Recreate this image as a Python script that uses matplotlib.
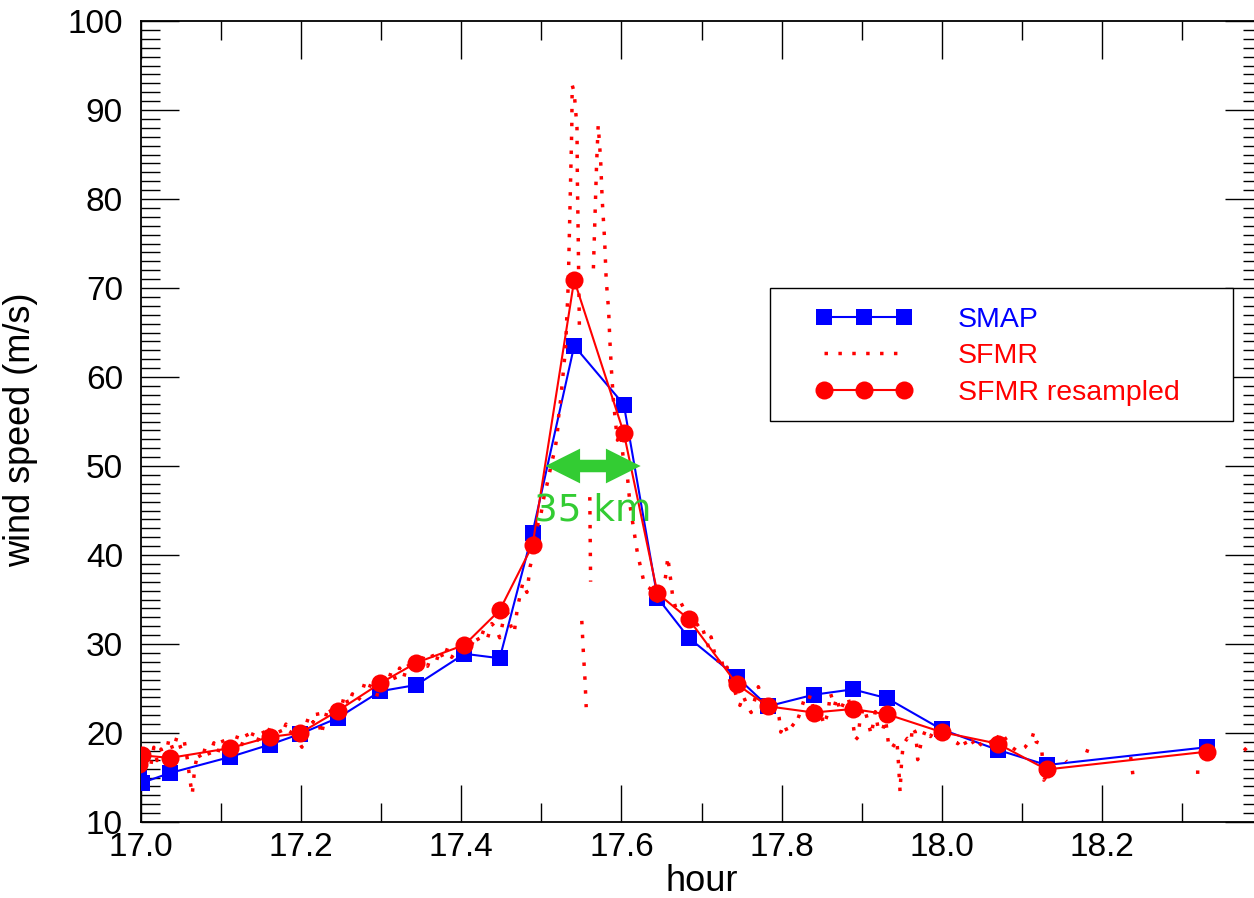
import numpy as np
import matplotlib
matplotlib.use("Agg")
import matplotlib.pyplot as plt
from matplotlib.patches import FancyArrowPatch, ArrowStyle, Rectangle
from matplotlib.ticker import MultipleLocator

nan = np.nan

# SMAP retrievals along the track
smap_hour = [16.998, 17.001, 17.036, 17.111, 17.161, 17.199, 17.246, 17.299, 17.344,
             17.404, 17.448, 17.489, 17.541, 17.603, 17.645, 17.684, 17.744, 17.783,
             17.840, 17.889, 17.932, 18.000, 18.070, 18.131, 18.331]
smap_speed = [15.2, 14.4, 15.5, 17.3, 18.7, 19.9, 21.7, 24.7, 25.4,
              28.9, 28.4, 42.5, 63.5, 56.9, 35.2, 30.7, 26.3, 23.0,
              24.3, 24.9, 23.9, 20.4, 18.1, 16.4, 18.4]

# SFMR averaged onto the SMAP footprints
res_hour = smap_hour
res_speed = [16.5, 17.5, 17.2, 18.3, 19.55, 20.0, 22.5, 25.6, 27.9,
             29.9, 33.8, 41.1, 70.9, 53.7, 35.7, 32.8, 25.5, 23.0,
             22.3, 22.7, 22.1, 20.1, 18.8, 15.9, 17.9]

# SFMR high-rate wind speeds (nan marks missing data)
sfmr_hour = [
    17.000, 17.004, 17.008, 17.012, 17.016, 17.020, 17.025, 17.030, 17.035, 17.040,
    17.045, 17.050, 17.054, 17.058, 17.061, 17.064, 17.067, 17.071, 17.076, 17.081,
    17.086, 17.091, 17.096, 17.101, 17.106, 17.111, 17.116, 17.121, 17.126, 17.131,
    17.136, 17.141, 17.146, 17.151, 17.156, 17.161, 17.166, 17.171, 17.176, 17.181,
    17.186, 17.191, 17.196, 17.201, 17.205, 17.210, 17.215, 17.220, 17.225, 17.229,
    17.234, 17.239, 17.244, 17.249, 17.254, 17.259, 17.264, 17.269, 17.274, 17.279,
    17.284, 17.289, 17.294, 17.298, 17.303, 17.308, 17.313, 17.318, 17.323, 17.328,
    17.333, 17.338, 17.343, 17.348, 17.353, 17.358, 17.363, 17.368, 17.373, 17.378,
    17.383, 17.388, 17.393, 17.398, 17.403, 17.408, 17.413, 17.418, 17.423, 17.428,
    17.433, 17.438, 17.443, 17.448, 17.453, 17.458, 17.462, 17.466, 17.470, 17.474,
    17.477, 17.482, 17.486, 17.489, 17.492, 17.499, 17.5025, 17.5075, 17.512, 17.5175,
    17.520, 17.5215, 17.524, 17.526, 17.528, 17.530, 17.531, 17.532, 17.533, 17.534,
    17.535, 17.536, 17.537, 17.538, 17.5385, 17.541, 17.5445, 17.545, 17.546, 17.5465,
    17.5475, nan,
    17.5505, 17.5525, 17.5545, 17.556, nan,
    17.5605, 17.5615, nan,
    17.565, 17.567, 17.569, 17.571, 17.574, 17.576, 17.579, 17.581, 17.584, 17.5855,
    17.5875, 17.590, 17.5925, 17.595, 17.599, 17.6025, 17.6075, 17.611, 17.615, 17.620,
    17.6275, 17.6325, 17.640, 17.645, 17.650, 17.655, 17.658, 17.660, 17.662, 17.664,
    17.668, 17.674, 17.680, 17.686, 17.692, 17.699, 17.704, 17.709, 17.712, 17.716,
    17.720, 17.724, 17.728, 17.732, 17.736, 17.740, 17.744, 17.748, 17.752, 17.757,
    17.762, 17.766, 17.771, 17.774, 17.777, 17.782, 17.787, 17.792, 17.797, 17.799,
    17.803, 17.807, 17.811, 17.817, 17.822, 17.828, 17.833, 17.836, 17.840, 17.844,
    17.848, 17.853, 17.858, 17.861, 17.866, 17.869, 17.873, 17.878, 17.883, 17.887,
    17.892, 17.896, 17.898, 17.903, 17.907, 17.912, 17.917, 17.921, 17.926, 17.930,
    17.934, 17.938, 17.944, 17.946, 17.947, 17.948, 17.950, 17.952, 17.957, 17.962,
    17.963, 17.967, 17.969, 17.970, 17.975, 17.980, 17.986, 17.992, 17.999, 18.003,
    18.008, 18.014, 18.020, 18.026, 18.032, 18.038, 18.044, 18.050, 18.057, 18.064,
    18.074, 18.078, 18.085, 18.095, 18.104, 18.109, 18.112, 18.115, 18.118, 18.121,
    18.125, 18.1275, 18.131, 18.134, nan,
    18.155, 18.156, nan,
    18.181, 18.185, nan,
    18.236, 18.240, nan,
    18.3175, 18.326, nan,
    18.3775, 18.3825,
]
sfmr_speed = [
    16.8, 15.7, 17.5, 16.2, 18.4, 16.9, 18.2, 17.0, 19.4, 18.1,
    19.6, 18.2, 19.1, 17.0, 14.8, 13.1, 16.0, 17.8, 17.0, 18.6,
    17.5, 18.9, 17.8, 19.3, 18.2, 19.5, 18.4, 19.8, 18.7, 20.0,
    19.1, 20.2, 19.2, 20.4, 19.5, 20.6, 19.7, 20.8, 19.8, 21.0,
    19.9, 20.7, 19.2, 18.4, 20.6, 22.0, 21.2, 22.4, 19.8, 21.3,
    23.0, 22.0, 23.5, 22.3, 24.3, 23.2, 24.4, 23.5, 24.0, 25.5,
    24.8, 26.0, 24.0, 25.2, 26.6, 25.5, 27.1, 26.0, 27.3, 26.2,
    27.8, 26.9, 28.3, 27.2, 28.6, 27.5, 28.9, 27.8, 29.3, 28.3,
    29.6, 28.5, 29.2, 30.2, 29.4, 30.4, 29.9, 31.0, 30.2, 31.6,
    30.7, 32.3, 31.8, 30.7, 32.9, 33.5, 32.0, 31.2, 34.0, 35.7,
    36.9, 35.8, 38.7, 39.8, 42.5, 44.3, 46.2, 48.1, 50.0, 52.1,
    53.7, 55.5, 57.4, 59.3, 61.1, 63.0, 64.9, 67.2, 69.0, 72.1,
    76.0, 80.0, 84.0, 88.0, 92.8, 92.0, 88.0, 82.0, 76.0, 72.1,
    65.6, nan,
    32.6, 29.0, 26.0, 22.9, nan,
    46.5, 37.0, nan,
    72.2, 78.0, 84.0, 88.3, 84.4, 79.9, 75.4, 70.9, 67.5, 64.2,
    60.8, 57.4, 55.0, 52.9, 53.7, 50.7, 48.8, 45.4, 43.1, 40.2,
    37.2, 36.4, 36.0, 34.8, 35.6, 37.5, 39.8, 38.2, 36.9, 35.3,
    34.0, 34.7, 33.6, 32.9, 32.0, 32.4, 31.0, 29.6, 30.8, 29.1,
    27.9, 28.7, 26.9, 27.4, 25.6, 25.2, 24.0, 23.1, 24.2, 23.1,
    22.3, 23.6, 25.2, 24.4, 23.7, 23.1, 22.2, 23.3, 21.7, 20.1,
    21.0, 20.2, 21.1, 20.7, 22.0, 23.7, 23.4, 24.3, 22.6, 21.8,
    22.5, 20.9, 22.3, 24.5, 23.0, 24.0, 22.4, 23.5, 24.0, 22.6,
    19.2, 19.6, 21.7, 22.9, 21.6, 19.8, 22.4, 20.3, 20.3, 21.5,
    18.4, 18.3, 19.2, 16.6, 15.1, 13.4, 17.0, 18.7, 19.4, 19.0,
    20.7, 20.1, 18.4, 17.0, 19.2, 20.4, 19.6, 20.6, 20.1, 19.6,
    20.0, 19.2, 18.8, 19.5, 18.4, 19.1, 18.2, 18.9, 19.4, 18.6,
    20.1, 19.6, 18.6, 17.9, 18.4, 19.0, 19.2, 20.1, 19.0, 18.9,
    18.1, 14.7, 15.2, 14.6, nan,
    16.9, 16.8, nan,
    17.8, 18.8, nan,
    17.3, 14.4, nan,
    15.6, 15.6, nan,
    18.3, 17.9,
]

x_ticks = [17.0, 17.2, 17.4, 17.6, 17.8, 18.0, 18.2]
y_ticks = [10, 20, 30, 40, 50, 60, 70, 80, 90, 100]

swath_label = "35 km"
swath_center = (17.5645, 50.0)
swath_left, swath_right = 17.505, 17.624

plt.rcParams["font.family"] = ["Liberation Sans", "DejaVu Sans"]

W, H = 1254, 898
fig = plt.figure(figsize=(W / 100, H / 100), dpi=100)
ax = fig.add_axes([141 / W, (H - 822) / H, 1121 / W, 801 / H])

ax.plot(smap_hour, smap_speed, color="blue", lw=1.5, marker="s", ms=12,
        mew=0, label="SMAP", zorder=3)
ax.plot(sfmr_hour, sfmr_speed, color="red", lw=2.5,
        linestyle=(0, (1, 3)), dash_capstyle="butt",
        label="SFMR", zorder=4)
ax.plot(res_hour, res_speed, color="red", lw=1.5, marker="o", ms=13,
        mew=0, label="SFMR resampled", zorder=5)

ax.set_xlim(17.0, 18.4)
ax.set_ylim(10, 100)
ax.set_xticks(x_ticks)
ax.set_xticklabels([f"{t:.1f}" for t in x_ticks])
ax.xaxis.set_minor_locator(MultipleLocator(0.1))
ax.set_yticks(y_ticks)
ax.yaxis.set_minor_locator(MultipleLocator(1))

ax.tick_params(which="both", direction="in", top=True, right=True,
               width=1.0, labelsize=24)
ax.tick_params(axis="x", which="major", length=27, pad=7)
ax.tick_params(axis="x", which="minor", length=13.5)
ax.tick_params(axis="y", which="major", length=27, pad=13)
ax.tick_params(axis="y", which="minor", length=14)
for s in ax.spines.values():
    s.set_linewidth(1.3)

ax.set_xlabel("hour", fontsize=26, labelpad=1)
ax.set_ylabel("wind speed (m/s)", fontsize=26)
ax.yaxis.set_label_coords(-0.092, 0.49)

# swath width marker
green = "#33CC33"
for end in (swath_left, swath_right):
    ax.add_patch(FancyArrowPatch(
        posA=swath_center, posB=(end, swath_center[1]),
        arrowstyle=ArrowStyle.Simple(head_length=1.0, head_width=1.0, tail_width=0.36),
        mutation_scale=25, color=green, lw=0, shrinkA=0, shrinkB=0, zorder=6))
ax.text(swath_center[0], 45.0, swath_label, color=green, fontsize=27,
        family="DejaVu Sans", ha="center", va="center", zorder=7)

# legend box
ax.add_patch(Rectangle(((770 - 141) / 1121, (822 - 421) / 801),
                       (1233 - 770) / 1121, (421 - 288) / 801,
                       transform=ax.transAxes, facecolor="white",
                       edgecolor="black", lw=1.0, zorder=8, clip_on=False))
leg = ax.legend(loc="upper left", bbox_to_anchor=((815.7 - 141) / 1121, (822 - 307) / 801),
                frameon=False, fontsize=20.5, handlelength=3.4, handletextpad=1.6,
                numpoints=3, borderaxespad=0, borderpad=0, labelspacing=0.36,
                labelcolor="linecolor")
leg.set_zorder(9)

fig.savefig("out.png", dpi=100)
